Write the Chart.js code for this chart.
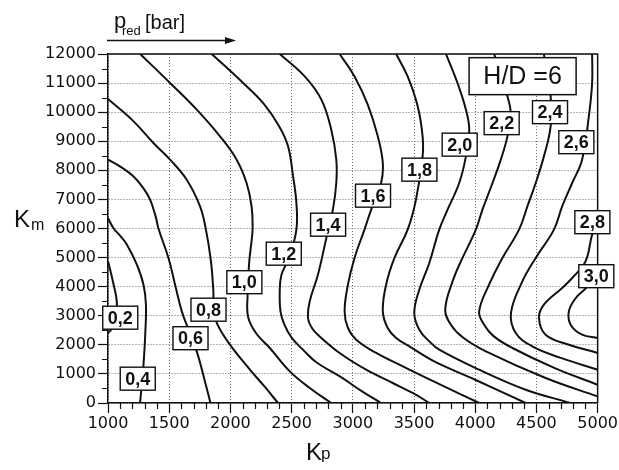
<!DOCTYPE html>
<html><head><meta charset="utf-8">
<script src="https://cdn.jsdelivr.net/npm/chart.js@4/dist/chart.umd.min.js"></script>
<style>html,body{margin:0;padding:0;background:#fff}canvas{display:block}</style>
</head><body>
<canvas id="c" width="619" height="470"></canvas>
<script>
// ---- data (Kp, Km) ----
const line_0_2 = [[1000,4870],[1025,4450],[1046,4068],[1065,3700],[1073,3380],[1065,2950],[1040,2600],[1000,2400]];
const line_0_4 = [[1000,6360],[1046,6000],[1100,5750],[1155,5444],[1236,4756],[1290,4068],[1310,3380],[1304,2349],[1290,1317],[1275,600],[1262,0]];
const line_0_6 = [[1000,8367],[1100,8130],[1209,7790],[1290,7380],[1344,6990],[1390,6400],[1412,6000],[1494,4987],[1548,4068],[1603,3150],[1660,2500],[1725,1774],[1792,743],[1837,0]];
const line_0_8 = [[1000,10454],[1209,9684],[1371,8941],[1507,8367],[1643,7679],[1752,6761],[1800,5960],[1840,4900],[1860,3896],[1865,3200],[1895,2693],[1996,2005],[2159,1150],[2280,560],[2389,0]];
const line_1_0 = [[1263,12000],[1507,11004],[1725,10086],[1915,9168],[2051,8367],[2132,7565],[2173,6761],[2181,5960],[2165,5300],[2153,4815],[2140,3666],[2145,2950],[2213,2380],[2322,1890],[2485,1087],[2648,516],[2824,0]];
const line_1_2 = [[1847,12000],[2104,11004],[2270,10300],[2400,9500],[2471,8825],[2512,7793],[2539,6877],[2539,5960],[2480,5000],[2417,4412],[2403,3838],[2409,3150],[2440,2700],[2500,2250],[2600,1800],[2702,1400],[2910,870],[3082,380],[3231,0]];
const line_1_4 = [[2403,12000],[2607,11230],[2743,10430],[2824,9398],[2865,8367],[2865,7565],[2837,6647],[2784,5674],[2715,4412],[2648,3494],[2634,2923],[2670,2550],[2729,2290],[2892,1720],[3109,1145],[3326,688],[3500,320],[3625,0]];
const line_1_6 = [[2892,12000],[3014,11230],[3122,10259],[3204,9168],[3245,8253],[3231,7565],[3150,6647],[3095,5960],[3014,4987],[2960,4068],[2933,3150],[2960,2579],[3028,2177],[3191,1720],[3408,1260],[3750,560],[4032,0]];
const line_1_8 = [[3354,12000],[3448,11230],[3530,10200],[3570,9168],[3570,8480],[3516,6992],[3448,5960],[3340,4987],[3272,4068],[3245,3150],[3285,2579],[3354,2235],[3462,1947],[3665,1430],[4000,800],[4412,0]];
const line_2_0 = [[3761,12000],[3855,11004],[3924,10086],[3951,9398],[3924,8480],[3869,7565],[3774,6647],[3706,5960],[3625,4815],[3543,3896],[3502,3095],[3543,2521],[3625,2118],[3706,1833],[4032,1145],[4412,457],[4779,0]];
const line_2_2 = [[4154,12000],[4210,11300],[4263,10545],[4290,9972],[4263,9168],[4209,8367],[4141,7565],[4059,6647],[4005,5960],[3896,4987],[3815,4182],[3755,3208],[3801,2693],[3900,2250],[4087,1774],[4575,860],[5000,227]];
const line_2_4 = [[4561,12000],[4590,11200],[4616,10545],[4616,9512],[4561,8480],[4494,7565],[4426,6761],[4358,5960],[4222,4987],[4113,4068],[4032,3150],[4073,2693],[4150,2300],[4304,1891],[4650,1200],[5000,629]];
const line_2_6 = [[4955,12000],[4955,11004],[4928,9856],[4873,8367],[4792,7565],[4710,6761],[4643,5960],[4494,4987],[4385,4182],[4292,3100],[4331,2407],[4466,1947],[4700,1550],[5000,1145]];
const line_2_8 = [[5000,6250],[4955,5790],[4901,4870],[4792,4298],[4710,3954],[4561,3380],[4521,2923],[4575,2349],[4765,2005],[5000,1720]];
const line_3_0 = [[5000,4250],[4940,4080],[4880,3850],[4820,3600],[4765,3150],[4779,2693],[4873,2349],[5000,2235]];

const contourLines = [line_0_2,line_0_4,line_0_6,line_0_8,line_1_0,line_1_2,line_1_4,line_1_6,line_1_8,line_2_0,line_2_2,line_2_4,line_2_6,line_2_8,line_3_0];
const labelText = ['0,2','0,4','0,6','0,8','1,0','1,2','1,4','1,6','1,8','2,0','2,2','2,4','2,6','2,8','3,0'];
const labelKp = [1100,1243,1674,1821,2114,2436,2798,3165,3544,3873,4216,4611,4826,4957,4989];
const labelKm = [2933,836,2228,3208,4154,5134,6131,7129,8023,8883,9622,10000,8968,6217,4360];
const boxText = 'H/D =6';
const boxKp = 4387, boxKm = 11238;

const TXT = '#111';

const decor = {
  id: 'decor',
  afterDatasetsDraw(chart) {
    const ctx = chart.ctx, ca = chart.chartArea;
    const xs = chart.scales.x, ys = chart.scales.y;
    ctx.save();
    // frame
    ctx.strokeStyle = TXT; ctx.lineWidth = 1.5;
    ctx.beginPath();
    ctx.moveTo(ca.left, ca.top); ctx.lineTo(ca.right, ca.top); ctx.lineTo(ca.right, ca.bottom);
    ctx.stroke();
    // minor ticks
    ctx.lineWidth = 1.2;
    ctx.beginPath();
    for (let v = 1000; v <= 5000; v += 100) {
      if (v % 500 === 0) continue;
      const px = Math.round(xs.getPixelForValue(v)) + 0.5;
      ctx.moveTo(px, ca.bottom); ctx.lineTo(px, ca.bottom + 6);
    }
    for (let v = 0; v <= 12000; v += 500) {
      if (v % 1000 === 0) continue;
      const py = Math.round(ys.getPixelForValue(v)) + 0.5;
      ctx.moveTo(ca.left - 6, py); ctx.lineTo(ca.left, py);
    }
    ctx.stroke();

    // contour labels
    ctx.font = 'bold 18px "Liberation Sans", Arial, sans-serif';
    ctx.textAlign = 'center'; ctx.textBaseline = 'middle';
    for (let i = 0; i < labelText.length; i++) {
      const px = xs.getPixelForValue(labelKp[i]);
      const py = ys.getPixelForValue(labelKm[i]);
      const w = ctx.measureText(labelText[i]).width + 10, h = 23;
      ctx.fillStyle = '#fff';
      ctx.fillRect(px - w / 2, py - h / 2, w, h);
      ctx.strokeStyle = TXT; ctx.lineWidth = 1.4;
      ctx.strokeRect(px - w / 2, py - h / 2, w, h);
      ctx.fillStyle = TXT;
      ctx.fillText(labelText[i], px, py + 1);
    }
    // H/D box
    {
      const px = xs.getPixelForValue(boxKp), py = ys.getPixelForValue(boxKm);
      const w = 107, h = 37;
      ctx.fillStyle = '#fff';
      ctx.fillRect(px - w / 2, py - h / 2, w, h);
      ctx.strokeStyle = TXT; ctx.lineWidth = 1.5;
      ctx.strokeRect(px - w / 2, py - h / 2, w, h);
      ctx.fillStyle = TXT;
      ctx.font = '25px "Liberation Sans", Arial, sans-serif';
      ctx.fillText(boxText, px, py + 1);
    }

    // axis titles
    ctx.textAlign = 'left'; ctx.textBaseline = 'alphabetic';
    ctx.fillStyle = TXT;
    ctx.font = '24px "Liberation Sans", Arial, sans-serif';
    ctx.fillText('K', 14, 227);
    ctx.font = '16px "Liberation Sans", Arial, sans-serif';
    ctx.fillText('m', 31, 230);
    ctx.font = '24px "Liberation Sans", Arial, sans-serif';
    ctx.fillText('K', 306, 460);
    ctx.font = '17px "Liberation Sans", Arial, sans-serif';
    ctx.fillText('p', 321, 459);
    // p_red [bar] with arrow
    ctx.font = '22px "Liberation Sans", Arial, sans-serif';
    ctx.fillText('p', 114, 28);
    ctx.font = '13px "Liberation Sans", Arial, sans-serif';
    ctx.fillText('red', 122, 35);
    ctx.font = '20px "Liberation Sans", Arial, sans-serif';
    ctx.fillText('[bar]', 145, 29);
    ctx.strokeStyle = TXT; ctx.lineWidth = 1.6;
    ctx.beginPath(); ctx.moveTo(107, 40.5); ctx.lineTo(228, 40.5); ctx.stroke();
    ctx.beginPath(); ctx.moveTo(236, 40.5); ctx.lineTo(225, 37); ctx.lineTo(225, 44); ctx.closePath(); ctx.fill();
    ctx.restore();
  }
};

const datasets = contourLines.map(pts => ({
  data: pts.map(p => ({x: p[0], y: p[1]})),
  showLine: true, pointRadius: 0, pointHoverRadius: 0,
  borderColor: '#111', borderWidth: 2, tension: 0.4, fill: false
}));

const tickFont = {family: '"DejaVu Sans", sans-serif', size: 16};
const plain = v => String(v);

new Chart(document.getElementById('c'), {
  type: 'scatter',
  data: {datasets},
  options: {
    responsive: false, animation: false, devicePixelRatio: 1,
    events: [],
    layout: {padding: {left: 0, right: 20, top: 54, bottom: 0}},
    plugins: {legend: {display: false}, tooltip: {enabled: false}},
    scales: {
      x: {
        type: 'linear', min: 1000, max: 5000,
        ticks: {stepSize: 500, autoSkip: false, maxRotation: 0, color: TXT, font: tickFont, padding: 1, callback: plain},
        grid: {color: '#6a6a6a', lineWidth: 1, tickColor: TXT, tickLength: 10, tickWidth: 1.2},
        border: {color: TXT, width: 1.5, dash: [1, 2]},
        afterFit(s) { s.height = 67; }
      },
      y: {
        type: 'linear', min: 0, max: 12000,
        ticks: {stepSize: 1000, autoSkip: false, color: TXT, font: tickFont, padding: 2, callback: plain},
        grid: {color: '#6a6a6a', lineWidth: 1, tickColor: TXT, tickLength: 10, tickWidth: 1.2},
        border: {color: TXT, width: 1.5, dash: [1, 2]},
        afterFit(s) { s.width = 108; }
      }
    }
  },
  plugins: [decor]
});
</script>
</body></html>
